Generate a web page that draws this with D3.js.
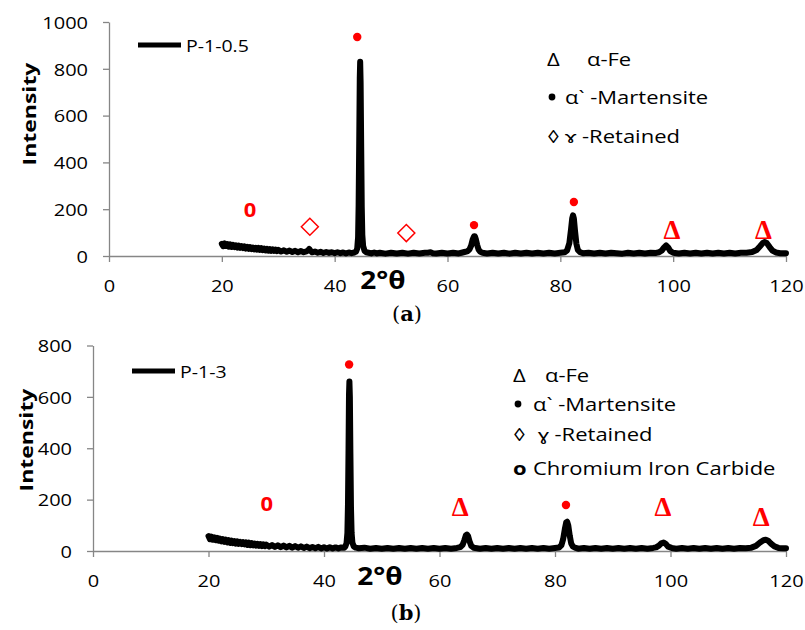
<!DOCTYPE html>
<html>
<head>
<meta charset="utf-8">
<script src="https://cdn.jsdelivr.net/npm/d3@7"></script>
<style>
  html, body { margin: 0; padding: 0; background: #fff; }
  svg { display: block; }
  text { font-family: "Open Sans", "Lato", sans-serif; }
</style>
</head>
<body>
<svg id="chart" width="805" height="630"></svg>
<script>
// ---- XRD pattern, sample P-1-0.5 (panel a) ----
const angleA = [
  20.0,20.25,20.5,20.75,21.0,21.25,21.5,21.75,22.0,22.25,22.5,22.75,23.0,23.25,23.5,23.75,
  24.0,24.25,24.5,24.75,25.0,25.25,25.5,25.75,26.0,26.25,26.5,26.75,27.0,27.25,27.5,27.75,
  28.0,28.25,28.5,28.75,29.0,29.25,29.5,29.75,30.0,
  30.5,31,31.5,32,32.5,33,33.5,34,34.5,35,35.3,35.5,35.7,36,36.5,37,37.5,38,38.5,39,39.5,
  40,40.5,41,41.5,42,42.5,43,43.5,
  43.8,44.0,44.15,44.25,44.35,44.45,44.52,44.6,44.7,44.8,44.9,45.05,45.3,45.6,46,
  46.5,47,47.5,48,49,50,51,52,53,54,55,56,56.5,57,57.4,58,59,60,61,62,62.5,63,63.5,
  63.9,64.2,64.45,64.7,64.85,65.0,65.25,65.5,65.8,66.2,
  67,68,69,70,71,72,73,74,75,76,77,78,79,80,
  80.8,81.2,81.6,81.9,82.1,82.25,82.4,82.6,82.85,83.1,83.5,
  84,85,86,87,88,89,90,91,92,93,94,95,96,97,
  97.5,98,98.4,98.75,99.1,99.5,100,
  101,102,103,104,105,106,107,108,109,110,111,112,113,
  114,114.8,115.4,115.9,116.25,116.6,117.1,117.6,118.2,119,120
];
const intensityA = [
  52,42,54,43,50,40,49,39,47,38,45,36,44,35,42,34,
  41,32,39,31,38,30,36,29,35,27,34,26,33,25,31,24,
  30,23,29,22,28,22,27,21,26,
  19,24,18,23,17,22,16,21,16,20,24,30,23,16,19,14,18,13,17,13,16,
  12,16,12,15,11,15,12,15,
  19,32,80,220,480,760,830,740,470,210,90,42,22,16,14,
  11,15,11,14,10,14,11,14,10,14,11,14,14,16,12,11,14,11,14,11,14,17,20,
  28,45,70,84,84,74,48,28,18,14,
  11,14,11,14,10,14,11,14,11,14,11,14,11,14,
  16,24,55,115,160,174,160,108,52,26,16,
  12,14,11,14,11,14,12,10,14,11,14,11,14,13,
  16,24,37,45,37,21,14,
  11,14,11,14,11,14,11,14,11,14,11,14,14,
  17,26,42,56,60,55,38,23,15,12,12
];

// ---- XRD pattern, sample P-1-3 (panel b) ----
const angleB = [
  20.0,20.25,20.5,20.75,21.0,21.25,21.5,21.75,22.0,22.25,22.5,22.75,23.0,23.25,23.5,23.75,
  24.0,24.25,24.5,24.75,25.0,25.25,25.5,25.75,26.0,26.25,26.5,26.75,27.0,27.25,27.5,27.75,
  28.0,28.25,28.5,28.75,29.0,29.25,29.5,29.75,30.0,
  30.5,31,31.5,32,32.5,33,33.5,34,34.5,35,35.5,36,36.5,37,37.5,38,38.5,39,39.5,
  40,40.5,41,41.5,42,42.5,43,43.5,
  43.7,43.9,44.05,44.15,44.25,44.33,44.4,44.48,44.57,44.67,44.78,44.92,45.15,45.5,46,
  47,48,49,50,51,52,53,54,55,56,57,58,59,60,61,62,63,
  63.6,64,64.3,64.55,64.75,64.95,65.2,65.5,65.9,66.5,
  67,68,69,70,71,72,73,74,75,76,77,78,79,80,
  80.7,81.1,81.4,81.7,81.95,82.1,82.3,82.55,82.8,83.1,83.6,
  84,85,86,87,88,89,90,91,92,93,94,95,96,97,
  97.5,98,98.4,98.8,99.2,99.6,100.2,
  101,102,103,104,105,106,107,108,109,110,111,112,113,
  114,114.8,115.5,116.1,116.5,116.9,117.4,118,118.7,119.5,120
];
const intensityB = [
  58,46,56,44,53,42,51,40,48,38,46,36,44,34,42,32,
  40,31,38,29,37,28,35,27,34,26,33,24,32,23,30,22,
  29,21,28,20,27,19,26,19,25,
  17,23,16,22,15,21,14,20,13,19,13,18,12,17,11,16,11,16,10,
  15,10,15,10,14,10,14,13,
  18,30,70,180,400,610,660,600,380,170,70,32,18,13,11,
  13,9,12,9,12,9,12,9,12,9,12,9,12,9,12,9,12,
  15,24,42,60,64,58,38,20,13,11,
  9,12,9,12,9,12,9,12,9,12,9,12,9,12,
  14,22,45,85,112,114,100,60,30,17,12,
  9,12,9,12,9,12,9,12,9,12,9,12,9,12,
  14,21,30,33,27,17,12,
  9,12,9,12,9,12,9,12,9,12,9,12,11,
  13,20,33,42,44,40,29,18,12,11,11
];

// ---- shared axis ticks ----
const angleTicks = [0, 20, 40, 60, 80, 100, 120];
const intensityTicksA = [0, 200, 400, 600, 800, 1000];
const intensityTicksB = [0, 200, 400, 600, 800];

// ---- phase markers placed over the peaks: [kind, 2θ, intensity] ----
const phaseMarksA = [
  ["zero", 25.0, 197], ["diamond", 35.6, 125], ["dot", 44.0, 936],
  ["diamond", 52.7, 98], ["dot", 64.7, 132], ["dot", 82.4, 231],
  ["delta", 99.8, 111], ["delta", 116.0, 111]
];
const phaseMarksB = [
  ["zero", 30.1, 186], ["dot", 44.35, 726], ["delta", 63.6, 171],
  ["dot", 81.9, 179], ["delta", 98.7, 171], ["delta", 115.7, 132]
];

// ---- phase key text ----
const keyRowsA = [
  ["Δ", "α-Fe"],
  ["•", "α` -Martensite"],
  ["◊", "ɤ -Retained"]
];
const keyRowsB = [
  ["Δ", "α-Fe"],
  ["•", "α` -Martensite"],
  ["◊", "ɣ -Retained"],
  ["o", "Chromium Iron Carbide"]
];

const svg = d3.select("#chart");
const AXIS_GREY = "#868686";
const RED = "#ff0000";
const FONT = "'Open Sans', Lato, sans-serif";
const SQUASH = 0.85;   // glyphs are a little flatter than the font's natural proportions

// horizontal label with a slight vertical squash
function label(g, x, y, str, size, opts = {}) {
  const k = opts.k || SQUASH;
  return g.append("text")
    .attr("transform", `translate(${x},${y}) scale(1,${k})`)
    .attr("text-anchor", opts.anchor || "start")
    .attr("fill", opts.fill || "#000")
    .style("font-family", opts.family || FONT)
    .style("font-size", size + "px")
    .style("font-weight", opts.weight || "normal")
    .text(str);
}

function drawPanel(p) {
  const g = svg.append("g");
  const x = d3.scaleLinear().domain([0, 120]).range([p.left, p.right]);
  const y = d3.scaleLinear().domain([0, p.yMax]).range([p.bottom, p.top]);

  // axes
  const xAxis = g.append("g")
    .attr("transform", `translate(0,${p.bottom})`)
    .call(d3.axisBottom(x).tickValues(angleTicks).tickFormat(d3.format("d"))
      .tickSize(6).tickSizeOuter(0).tickPadding(15));
  const yAxis = g.append("g")
    .attr("transform", `translate(${p.left},0)`)
    .call(d3.axisLeft(y).tickValues(p.yTicks).tickFormat(d3.format("d"))
      .tickSize(6).tickSizeOuter(0).tickPadding(15));
  [xAxis, yAxis].forEach(a => {
    a.selectAll("path, line").attr("stroke", AXIS_GREY).attr("stroke-width", 1.3);
    a.selectAll("text").attr("fill", "#000").style("font-size", "20px")
      .style("font-family", FONT)
      .attr("transform", `scale(1,${SQUASH})`)
      .attr("dy", 0);
  });
  xAxis.selectAll("text").attr("y", 36 / SQUASH);
  yAxis.selectAll("text").attr("y", 6.3 / SQUASH);

  // axis titles
  g.append("text")
    .attr("transform", `translate(${p.yTitleX},${p.yTitleY}) rotate(-90) scale(1,0.8)`)
    .attr("text-anchor", "middle")
    .style("font-size", "23px").style("font-weight", "bold")
    .text("Intensity");
  label(g, p.xTitleX, p.xTitleY, "2°θ", 28, { anchor: "middle", weight: "bold", k: 0.9 });

  // diffraction trace
  const pts = p.angle.map((a, i) => [a, p.intensity[i]]);
  g.append("path")
    .datum(pts)
    .attr("fill", "none")
    .attr("stroke", "#000")
    .attr("stroke-width", 6)
    .attr("stroke-linejoin", "round")
    .attr("stroke-linecap", "round")
    .attr("d", d3.line().x(d => x(d[0])).y(d => y(d[1])));

  // series key
  g.append("line")
    .attr("x1", p.keyX).attr("x2", p.keyX + 43)
    .attr("y1", p.keyY).attr("y2", p.keyY)
    .attr("stroke", "#000").attr("stroke-width", 5);
  label(g, p.keyX + 48, p.keyY + 7, p.sample, 19.5, { k: 0.88 });

  // phase markers
  p.marks.forEach(([kind, a, v]) => {
    const cx = x(a), cy = y(v);
    if (kind === "dot") {
      g.append("circle").attr("cx", cx).attr("cy", cy).attr("r", 4.2).attr("fill", RED);
    } else if (kind === "diamond") {
      const r = 8.5;
      g.append("path")
        .attr("d", `M${cx},${cy - r}L${cx + r},${cy}L${cx},${cy + r}L${cx - r},${cy}Z`)
        .attr("fill", "none").attr("stroke", RED).attr("stroke-width", 1.5);
    } else if (kind === "delta") {
      label(g, cx, cy + 9, "Δ", 27, { anchor: "middle", fill: RED, weight: "bold", k: 1,
        family: "'Liberation Serif', 'DejaVu Serif', serif" });
    } else if (kind === "zero") {
      label(g, cx, cy + 7.5, "0", 22, { anchor: "middle", fill: RED, weight: "bold", k: 0.9 });
    }
  });

  // phase key
  p.keyRows.forEach(([sym, text], i) => {
    const by = p.phaseY[i];
    if (sym === "•") {
      g.append("circle").attr("cx", p.bulletX).attr("cy", by - 7).attr("r", 3.4).attr("fill", "#000");
    } else {
      label(g, p.phaseX, by, sym, 22, { weight: sym === "o" ? "bold" : "normal", k: 0.82 });
    }
    label(g, p.phaseTextX[i], by, text, 22, { k: 0.82 });
  });

  // panel caption
  const cap = g.append("text")
    .attr("x", p.capX).attr("y", p.capY)
    .attr("text-anchor", "middle")
    .style("font-family", "'DejaVu Serif', 'Liberation Serif', serif")
    .style("font-size", "21px");
  cap.append("tspan").text("(");
  cap.append("tspan").style("font-weight", "bold").text(p.caption);
  cap.append("tspan").text(")");
}

drawPanel({
  left: 109, right: 786, top: 22, bottom: 256, yMax: 1000, yTicks: intensityTicksA,
  angle: angleA, intensity: intensityA, marks: phaseMarksA, sample: "P-1-0.5",
  yTitleX: 36, yTitleY: 114, xTitleX: 383, xTitleY: 289,
  keyX: 138, keyY: 45,
  keyRows: keyRowsA, phaseX: 547, bulletX: 552, phaseY: [66, 104, 142.5], phaseTextX: [587, 565, 565],
  capX: 407, capY: 321, caption: "a"
});

drawPanel({
  left: 93, right: 786, top: 345.5, bottom: 551, yMax: 800, yTicks: intensityTicksB,
  angle: angleB, intensity: intensityB, marks: phaseMarksB, sample: "P-1-3",
  yTitleX: 33, yTitleY: 440, xTitleX: 380, xTitleY: 585,
  keyX: 132, keyY: 371,
  keyRows: keyRowsB, phaseX: 513, bulletX: 518, phaseY: [382, 411, 441, 475], phaseTextX: [545, 533, 538, 533],
  capX: 406, capY: 620, caption: "b"
});
</script>
</body>
</html>
